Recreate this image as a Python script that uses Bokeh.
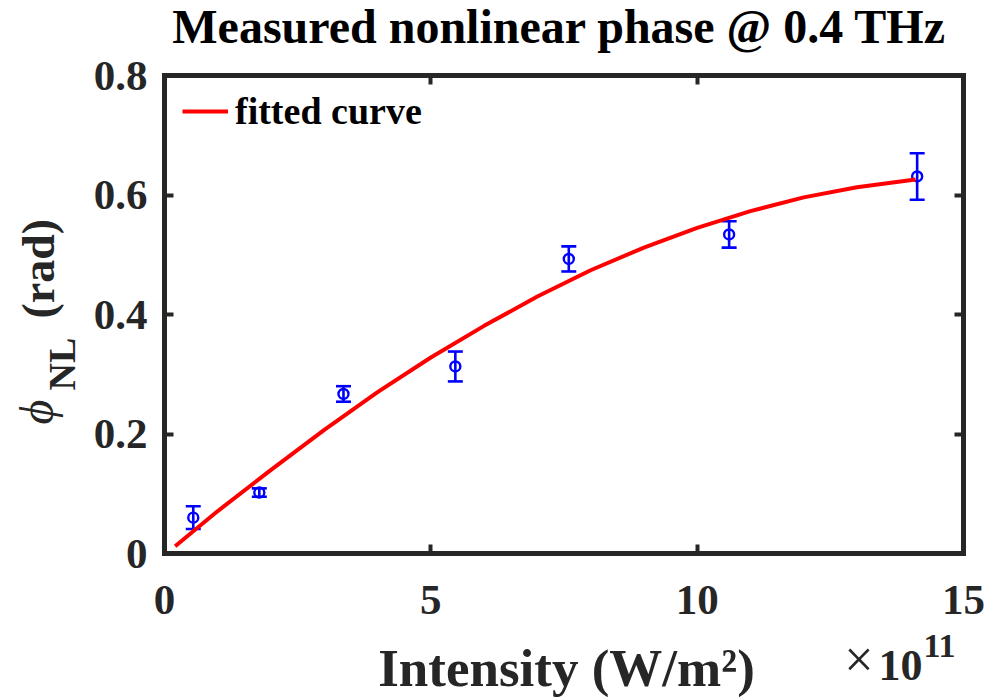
import math
from bokeh.plotting import figure
from bokeh.models import (ColumnDataSource, Whisker, TeeHead, Label, LinearAxis,
                          Range1d, FixedTicker, BoxAnnotation)
from bokeh.embed import file_html
from bokeh.resources import INLINE

# ---- data ----
intensity = [0.54, 1.78, 3.36, 5.46, 7.59, 10.60, 14.13]          # x 1e11 W/m^2
phase = [0.060, 0.102, 0.267, 0.313, 0.493, 0.534, 0.631]          # rad
phase_err = [0.019, 0.007, 0.013, 0.025, 0.021, 0.022, 0.039]      # rad

fit_x = [0.2, 1, 2, 3, 4, 5, 6, 7, 8, 9, 10, 11, 12, 13, 14.1]
fit_y = [0.012, 0.071, 0.140, 0.207, 0.270, 0.328, 0.381, 0.430, 0.474,
         0.512, 0.545, 0.573, 0.596, 0.613, 0.626]

x_ticks = [0, 5, 10, 15]
y_ticks = [0, 0.2, 0.4, 0.6, 0.8]

# ---- layout constants (canvas pixels) ----
W, H = 987, 700
FL, FR, FT, FB = 164, 963, 75, 553      # where the axes box sits on the canvas
X0, X1 = 0, 15
Y0, Y1 = 0, 0.8

def dx(px):
    return X0 + (px - FL) / (FR - FL) * (X1 - X0)

def dy(py):
    return Y0 + (FB - py) / (FB - FT) * (Y1 - Y0)

SERIF = "Liberation Serif"
AX = "#262626"
BASE_SHIFT = 0.4   # baseline correction, in em

# the frame covers the whole canvas; the axes are pinned at the box edges
p = figure(width=W, height=H, output_backend="svg", toolbar_location=None,
           x_range=Range1d(dx(0), dx(W)), y_range=Range1d(dy(H), dy(0)),
           min_border=0, x_axis_location=None, y_axis_location=None)
p.title.visible = False
p.xgrid.visible = False
p.ygrid.visible = False
p.background_fill_color = "white"
p.border_fill_color = "white"
p.outline_line_color = None

def make_axis(ticks, where, bounds, labels):
    ax = LinearAxis(ticker=FixedTicker(ticks=ticks), fixed_location=where,
                    bounds=bounds)
    ax.axis_line_color = None
    ax.major_tick_in = 9
    ax.major_tick_out = 0
    ax.major_tick_line_width = 4
    ax.major_tick_line_color = AX
    ax.minor_tick_line_color = None
    ax.major_label_text_font = SERIF
    ax.major_label_text_font_style = "bold"
    ax.major_label_text_color = AX
    if labels:
        ax.major_label_text_font_size = "43px"
    else:
        ax.major_label_text_font_size = "0px"
        ax.major_label_standoff = 0
    return ax

bx = make_axis(x_ticks, Y0, (X0, X1), True)
bx.major_label_standoff = 32
p.add_layout(bx, "below")
ly = make_axis(y_ticks, X0, (Y0, Y1), True)
ly.major_label_standoff = 17
p.add_layout(ly, "left")
p.add_layout(make_axis(x_ticks, Y1, (X0, X1), False), "above")
p.add_layout(make_axis(y_ticks, X1, (Y0, Y1), False), "right")

# ---- data points with error bars ----
src = ColumnDataSource(dict(
    x=intensity, y=phase,
    lo=[v - e for v, e in zip(phase, phase_err)],
    hi=[v + e for v, e in zip(phase, phase_err)],
))
wk = Whisker(source=src, base="x", upper="hi", lower="lo",
             line_color="#0000ff", line_width=2.6,
             upper_head=TeeHead(size=15, line_color="#0000ff", line_width=2.6),
             lower_head=TeeHead(size=15, line_color="#0000ff", line_width=2.6))
p.add_layout(wk)
p.scatter("x", "y", source=src, marker="circle", size=10, fill_color=None,
          line_color="#0000ff", line_width=2.4)

# ---- fitted curve ----
p.line(fit_x, fit_y, line_color="#ff0000", line_width=4, legend_label="fitted curve")

# ---- axes box ----
p.add_layout(BoxAnnotation(left=X0, right=X1, bottom=Y0, top=Y1,
                           fill_color=None, fill_alpha=0,
                           line_color=AX, line_alpha=1.0, line_width=5,
                           line_join="miter"))

lg = p.legend[0]
LEG_H = 42
lg.location = (182, H - (112 + LEG_H // 2))
lg.border_line_color = None
lg.background_fill_alpha = 0
lg.label_text_font = SERIF
lg.label_text_font_style = "bold"
lg.label_text_font_size = "38px"
lg.label_text_color = "black"
lg.glyph_width = 46
lg.glyph_height = LEG_H
lg.label_height = LEG_H
lg.label_standoff = 7
lg.margin = 0
lg.padding = 0

# ---- texts ----
def add_label(text, px, py, size, style="bold", align="left", angle=0.0,
              color="black"):
    shift = BASE_SHIFT * size
    if angle:
        px -= shift
    else:
        py -= shift
    p.add_layout(Label(x=dx(px), y=dy(py), text=text, text_font=SERIF,
                       text_font_size=f"{size}px", text_font_style=style,
                       text_align=align, text_baseline="alphabetic", angle=angle,
                       text_color=color))

add_label("Measured nonlinear phase @ 0.4 THz", 559, 45, 48, align="center")
add_label("Intensity (W/m²)", 566, 689, 53, align="center", color=AX)
add_label("×", 873, 680, 52, style="normal", align="right", color=AX)
add_label("10", 922, 683, 44, align="right", color=AX)
add_label("11", 923, 659, 34, color=AX)

# y label pieces, rotated to read bottom-to-top
add_label("ϕ", 55, 424, 48, style="italic", angle=math.pi / 2, color=AX)
add_label("NL", 77, 390, 38, angle=math.pi / 2, color=AX)
add_label("(rad)", 56, 318, 46, angle=math.pi / 2, color=AX)

open("out.html", "w").write(file_html(p, INLINE))
